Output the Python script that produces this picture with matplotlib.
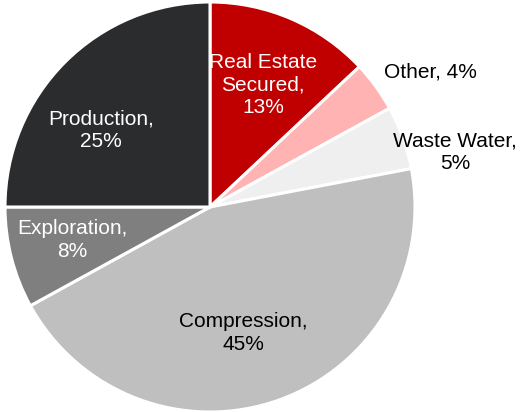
import matplotlib
matplotlib.use("Agg")
import matplotlib.pyplot as plt

# Share of portfolio by segment (clockwise from 12 o'clock)
segments = ["Real Estate\nSecured", "Other", "Waste Water", "Compression", "Exploration", "Production"]
shares = [13, 4, 5, 45, 8, 25]
colors = ["#C00000", "#FFB3B3", "#EFEFEF", "#BFBFBF", "#7F7F7F", "#2B2C2E"]
label_colors = ["white", "black", "black", "black", "white", "white"]
label_text = ["Real Estate\nSecured,\n13%", "Other, 4%", "Waste Water,\n5%",
              "Compression,\n45%", "Exploration,\n8%", "Production,\n25%"]
# label anchor points in pie-radius units
label_xy = [(0.259, 0.595), (1.073, 0.659), (1.195, 0.268),
            (0.161, -0.615), (-0.673, -0.161), (-0.532, 0.376)]

plt.rcParams["font.family"] = ["Liberation Sans", "DejaVu Sans"]

W, H = 521, 412
cx, cy, R = 210, 207, 205
fig = plt.figure(figsize=(W / 100, H / 100), dpi=100)
ax = fig.add_axes([0, 0, 1, 1])
ax.pie(shares, colors=colors, startangle=90, counterclock=False, radius=1.0,
       wedgeprops=dict(edgecolor="white", linewidth=2.2))
ax.set_xlim(-cx / R, (W - cx) / R)
ax.set_ylim(-(H - cy) / R, cy / R)
ax.set_aspect("equal")
ax.axis("off")

for txt, (x, y), c in zip(label_text, label_xy, label_colors):
    ax.text(x, y, txt, ha="center", va="center", color=c, fontsize=15,
            linespacing=1.25)

fig.savefig("out.png", dpi=100)
